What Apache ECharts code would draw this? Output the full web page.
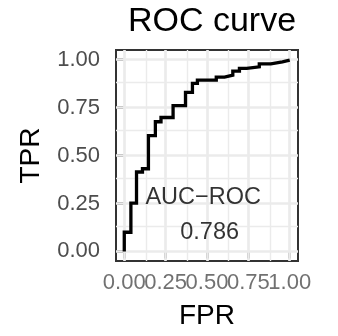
<!DOCTYPE html>
<html>
<head>
<meta charset="utf-8">
<script src="https://cdn.jsdelivr.net/npm/echarts@6/dist/echarts.min.js"></script>
<style>
  html, body { margin: 0; padding: 0; background: #fff; }
  #chart { width: 338px; height: 336px; }
</style>
</head>
<body>
<div id="chart"></div>
<script>
// ROC curve: corner points of the step curve (FPR at which TPR jumps, TPR after the jump)
const fpr = [0, 0, 0.040, 0.074, 0.110, 0.146, 0.188, 0.222, 0.295, 0.370, 0.412, 0.442,
             0.556, 0.606, 0.656, 0.696, 0.740, 0.816, 0.886, 0.956, 1.0];
const tpr = [0, 0.100, 0.252, 0.414, 0.431, 0.604, 0.676, 0.698, 0.760, 0.829, 0.876, 0.893,
             0.909, 0.919, 0.940, 0.954, 0.962, 0.978, 0.988, 0.997, 1.0];

const majorTicks = [0, 0.25, 0.5, 0.75, 1.0];
const minorTicks = [0.125, 0.375, 0.625, 0.875];
const aucValue = 0.786;
const annotationText = ['AUC\u2212ROC', aucValue.toFixed(3)];
const annotationX = [0.477, 0.516];
const annotationY = [0.28, 0.10];

const AXIS_MIN = -0.05;
const AXIS_MAX = 1.05;

const FONT = 'Liberation Sans, Arial, Helvetica, sans-serif';
const GRID_COLOR = '#EBEBEB';
const INK = '#333333';
const LABEL_COLOR = '#4D4D4D';

function fmt(v) { return v.toFixed(2); }

const gridLines = [];
minorTicks.forEach(v => {
  gridLines.push({ xAxis: v, lineStyle: { width: 1.4, color: GRID_COLOR, type: 'solid' } });
  gridLines.push({ yAxis: v, lineStyle: { width: 1.4, color: GRID_COLOR, type: 'solid' } });
});
majorTicks.forEach(v => {
  gridLines.push({ xAxis: v, lineStyle: { width: 2.7, color: GRID_COLOR, type: 'solid' } });
  gridLines.push({ yAxis: v, lineStyle: { width: 2.7, color: GRID_COLOR, type: 'solid' } });
});

function makeAxis(name, isX) {
  return {
    type: 'value',
    min: AXIS_MIN,
    max: AXIS_MAX,
    name: name,
    nameLocation: 'middle',
    nameGap: isX ? 41 : 71,
    nameTextStyle: { fontFamily: FONT, fontSize: 28, color: '#000' },
    axisLine: { show: false },
    axisTick: {
      show: true, inside: false, length: 7,
      lineStyle: { color: INK, width: 2.5 },
      customValues: majorTicks
    },
    // x tick labels touch each other, so they are drawn by the label series below
    axisLabel: {
      show: !isX, fontFamily: FONT, fontSize: 22, color: LABEL_COLOR,
      margin: 16,
      customValues: majorTicks,
      formatter: fmt
    },
    splitLine: { show: false },
    minorSplitLine: { show: false }
  };
}

const chart = echarts.init(document.getElementById('chart'), null, { renderer: 'canvas' });
chart.setOption({
  animation: false,
  backgroundColor: '#ffffff',
  title: {
    text: 'ROC curve',
    left: 207, top: 0,
    textAlign: 'center',
    textStyle: { fontFamily: FONT, fontSize: 34, fontWeight: 'normal', color: '#000' }
  },
  grid: {
    left: 116, right: 40, top: 50, bottom: 75,
    show: true, borderColor: INK, borderWidth: 2, backgroundColor: 'transparent',
    containLabel: false
  },
  xAxis: makeAxis('FPR', true),
  yAxis: makeAxis('TPR', false),
  series: [
    {
      name: 'grid',
      type: 'line',
      data: [],
      z: 1,
      silent: true,
      markLine: {
        z: 1,
        silent: true,
        symbol: ['none', 'none'],
        label: { show: false },
        animation: false,
        data: gridLines
      }
    },
    {
      name: 'ROC',
      type: 'line',
      step: 'end',
      z: 10,
      showSymbol: false,
      symbol: 'none',
      data: fpr.map((x, i) => [x, tpr[i]]),
      lineStyle: { color: '#000', width: 3.3, join: 'miter', cap: 'butt' }
    },
    {
      name: 'annotation',
      type: 'scatter',
      z: 11,
      symbolSize: 0,
      silent: true,
      data: annotationText.map((t, i) => ({ value: [annotationX[i], annotationY[i]], text: t })),
      label: {
        show: true,
        position: 'inside',
        formatter: p => p.data.text,
        fontFamily: FONT, fontSize: 23.5, color: '#000'
      }
    },
    {
      name: 'xTickLabels',
      type: 'scatter',
      z: 11,
      symbolSize: 0,
      silent: true,
      clip: false,
      data: majorTicks.map(v => [v, AXIS_MIN]),
      label: {
        show: true,
        position: 'bottom',
        distance: 11,
        formatter: p => fmt(p.value[0]),
        fontFamily: FONT, fontSize: 22, color: LABEL_COLOR
      },
      labelLayout: { hideOverlap: false }
    }
  ]
});
</script>
</body>
</html>
